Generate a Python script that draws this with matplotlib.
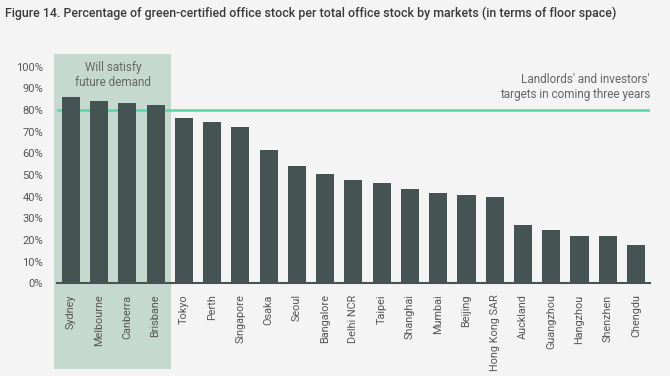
import matplotlib.pyplot as plt
from matplotlib.patches import Rectangle

# Share of green-certified office stock per market (%)
markets = ['Sydney', 'Melbourne', 'Canberra', 'Brisbane', 'Tokyo', 'Perth',
           'Singapore', 'Osaka', 'Seoul', 'Bangalore', 'Delhi NCR', 'Taipei',
           'Shanghai', 'Mumbai', 'Beijing', 'Hong Kong SAR', 'Auckland',
           'Guangzhou', 'Hangzhou', 'Shenzhen', 'Chengdu']
shares = [86.1, 84.3, 83.2, 82.3, 76.2, 74.5, 72.3, 61.4, 54.0, 50.5, 47.8,
          46.3, 43.4, 41.5, 40.6, 40.0, 26.9, 24.5, 21.8, 21.7, 17.7]
target = 80
yticks = list(range(0, 101, 10))
n_satisfy = 4

bg = '#f4f4f4'
bar_color = '#455353'
shade_color = '#c6d9d0'
green = '#58d6a5'
text_color = '#555555'

plt.rcParams['font.family'] = ['Roboto', 'DejaVu Sans']

fig = plt.figure(figsize=(6.7, 3.76), dpi=100, facecolor=bg)
ax = fig.add_axes([0.085, 0.2465, 0.885, 0.576], facecolor=bg)

x = range(len(markets))

# Shaded block behind the markets that already meet the target
ax.add_patch(Rectangle((-0.58, -39.6), n_satisfy + 0.12, 145.5,
                       transform=ax.transData, facecolor=shade_color,
                       edgecolor='none', clip_on=False, zorder=0))

ax.bar(x, shares, width=0.64, color=bar_color, zorder=2)
ax.axhline(target, color=green, linewidth=1.8, zorder=1)

ax.text((n_satisfy - 1) / 2, 102.5, 'Will satisfy\nfuture demand', ha='center',
        va='top', fontsize=8.5, color='#666666', linespacing=1.15, zorder=3)
ax.text(1.0, 84.3, "Landlords' and investors'\ntargets in coming three years",
        transform=ax.get_yaxis_transform(), ha='right', va='bottom',
        fontsize=8.5, color='#666666', linespacing=1.15, zorder=3)

ax.set_xlim(-0.49, len(markets) - 0.51)
ax.set_ylim(0, 100)
ax.set_yticks(yticks)
ax.set_yticklabels([f'{t}%' for t in yticks], fontsize=8, color=text_color)
ax.set_xticks(list(x))
ax.set_xticklabels(markets, rotation=90, fontsize=7.8, color=text_color)
ax.tick_params(axis='both', length=0)
ax.tick_params(axis='x', pad=8)
ax.tick_params(axis='y', pad=10)

for side in ['top', 'right', 'left']:
    ax.spines[side].set_visible(False)
ax.spines['bottom'].set_color(bar_color)
ax.spines['bottom'].set_linewidth(1.5)
ax.spines['bottom'].set_zorder(3)

fig.text(0.008, 0.965, 'Figure 14. Percentage of green-certified office stock per '
         'total office stock by markets (in terms of floor space)',
         ha='left', va='center', fontsize=8.9, fontweight='medium',
         color='#3a3a3a')

fig.savefig('out.png', dpi=100, facecolor=bg)
